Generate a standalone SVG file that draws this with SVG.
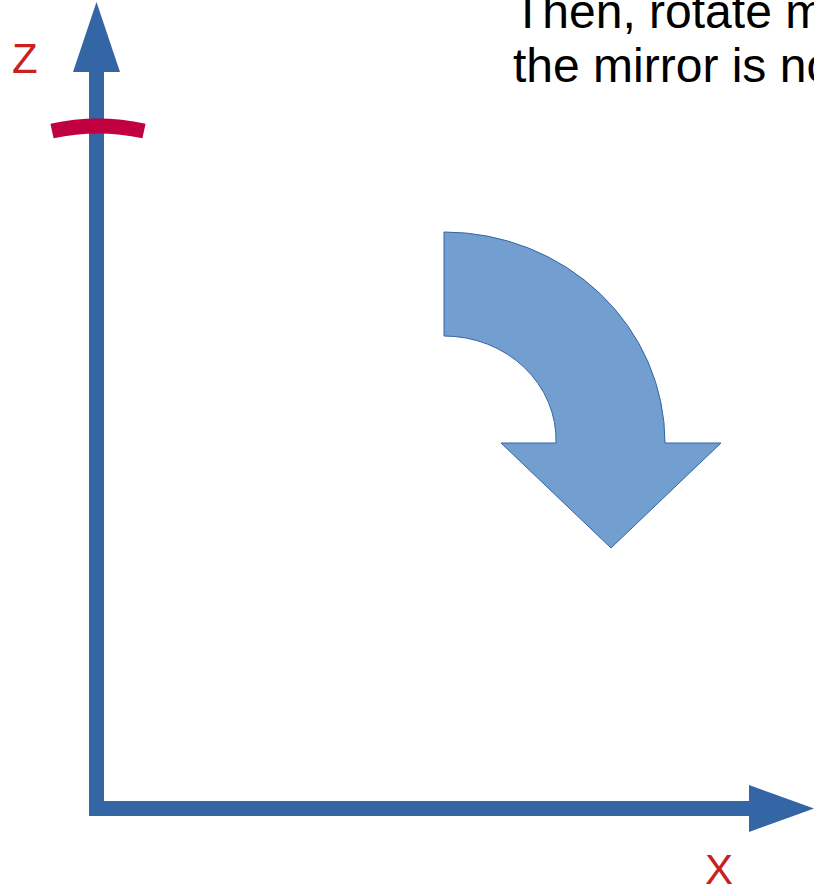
<svg xmlns="http://www.w3.org/2000/svg" width="814" height="886" viewBox="0 0 814 886">
<style>
.axis{fill:#3465A4}
.lbl{font-family:"Liberation Sans",Arial,sans-serif;font-size:42px;fill:#C9211E}
.txt{font-family:"Liberation Sans",Arial,sans-serif;font-size:48px;fill:#000}
.rot{fill:#729FCF;stroke:#3465A4;stroke-width:1}
</style>
<rect width="814" height="886" fill="#fff"/>
<g id="caption">
<text class="txt" x="513" y="28">Then, rotate m</text>
<text class="txt" x="513" y="82">the mirror is no</text>
</g>
<g id="connectors">
<g id="z-axis">
<rect class="axis" x="89" y="70" width="15" height="746"/>
<polygon class="axis" points="73,72 120,72 96.5,2"/>
</g>
<g id="x-axis">
<rect class="axis" x="89" y="801" width="662" height="15"/>
<polygon class="axis" points="749,785 749,832 814,808.5"/>
</g>
</g>
<g id="z-label"><text class="lbl" x="12" y="73">Z</text></g>
<g id="x-label"><text class="lbl" x="705" y="884">X</text></g>
<g id="mirror-mark">
<path d="M52,131 Q98,121 144,131" fill="none" stroke="#C0003F" stroke-width="15"/>
</g>
<g id="rotation-arrow">
<path class="rot" d="M444,232 A221,211 0 0 1 665,443 L721,443 L611,548 L501,443 L556,443 A112,104 0 0 0 444,336 Z"/>
</g>
</svg>
